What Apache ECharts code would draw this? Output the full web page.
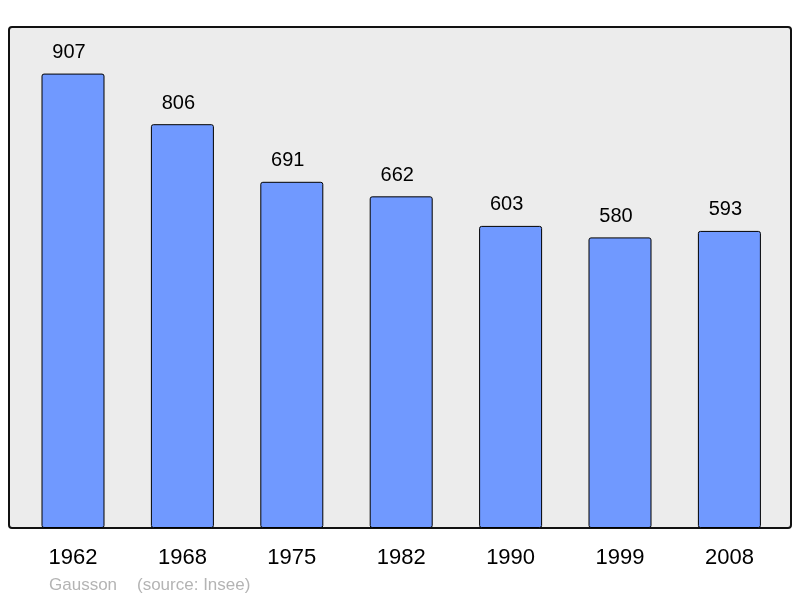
<!DOCTYPE html>
<html><head><meta charset="utf-8">
<script src="https://cdn.jsdelivr.net/npm/echarts@6/dist/echarts.min.js"></script>
<style>html,body{margin:0;padding:0;background:#fff}#c{width:800px;height:598px}</style>
</head><body><div id="c"></div>
<script>
const years = ['1962','1968','1975','1982','1990','1999','2008'];
const population = [907, 806, 691, 662, 603, 580, 593];
const yMax = 1000;
const FONT = 'Liberation Sans, Arial, sans-serif';

const chart = echarts.init(document.getElementById('c'), null, {renderer:'canvas'});
chart.setOption({
  animation: false,
  textStyle: {fontFamily: FONT},
  grid: {left: 18.3, top: 27, width: 765.8, height: 501},
  xAxis: {type: 'category', data: years,
     axisLine: {show: false}, axisTick: {show: false},
     axisLabel: {color: '#000', fontSize: 22, margin: 19, fontFamily: FONT}},
  yAxis: {type: 'value', min: 0, max: yMax, show: false, splitLine: {show: false}},
  series: [{
    type: 'bar', data: population, barWidth: 63, z: 5,
    itemStyle: {color: '#7099ff', borderColor: '#000', borderWidth: 1, borderRadius: 2},
    label: {show: true, position: 'top', distance: 11, offset: [-4, 0], color: '#000', fontSize: 20, fontFamily: FONT}
  }],
  graphic: [
    {type: 'rect', z: -10, shape: {x: 9, y: 27, width: 782, height: 501, r: 3},
     style: {fill: '#ececec', stroke: '#111', lineWidth: 2}},
    {type: 'text', left: 49, top: 577,
     style: {text: 'Gausson', fill: '#b4b4b4', fontSize: 17, fontFamily: FONT}},
    {type: 'text', left: 137, top: 577,
     style: {text: '(source: Insee)', fill: '#b4b4b4', fontSize: 17, fontFamily: FONT}}
  ]
});
</script></body></html>
